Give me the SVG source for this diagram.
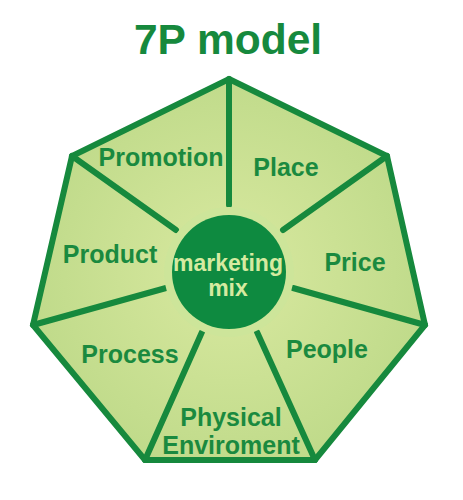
<svg xmlns="http://www.w3.org/2000/svg" width="463" height="500" viewBox="0 0 463 500">
<defs>
<radialGradient id="bg" cx="229" cy="272" r="220" gradientUnits="userSpaceOnUse">
<stop offset="0" stop-color="#d9e9a0"/>
<stop offset="1" stop-color="#bdd988"/>
</radialGradient>
<style>
.lbl{font-family:"Liberation Sans",Arial,sans-serif;font-weight:bold;font-size:25px;fill:#1a8a3f;text-anchor:middle}
.mix{font-family:"Liberation Sans",Arial,sans-serif;font-weight:bold;font-size:23px;fill:#d6eaa0;text-anchor:middle}
.edge{stroke:#16893d;stroke-width:6;stroke-linecap:round}
</style>
</defs>
<rect width="463" height="500" fill="#ffffff"/>
<text x="228" y="54" font-family="Liberation Sans,Arial,sans-serif" font-weight="bold" font-size="42.5" fill="#16893d" text-anchor="middle">7P model</text>
<g id="heptagon">
<polygon points="229,79 387,156 425,325 315,460 145,460 33,325 72,156" fill="url(#bg)" stroke="#16893d" stroke-width="6" stroke-linejoin="miter"/>
</g>
<g id="connectors">
<line class="edge" x1="229" y1="79" x2="229" y2="205"/>
<line class="edge" x1="72" y1="156" x2="176" y2="230"/>
<line class="edge" x1="387" y1="156" x2="283" y2="230"/>
<line class="edge" x1="33" y1="325" x2="166" y2="288"/>
<line class="edge" x1="425" y1="325" x2="293" y2="288"/>
<line class="edge" x1="145" y1="460" x2="202" y2="332"/>
<line class="edge" x1="315" y1="460" x2="257" y2="332"/>
</g>
<g id="center">
<circle cx="229" cy="272" r="65" fill="#cde59a"/>
<circle cx="229" cy="272" r="57" fill="#0e8a40"/>
<text class="mix" x="228" y="271">marketing</text>
<text class="mix" x="228" y="296">mix</text>
</g>
<g id="promotion"><text class="lbl" x="161" y="166">Promotion</text></g>
<g id="place"><text class="lbl" x="286" y="176">Place</text></g>
<g id="product"><text class="lbl" x="110" y="263">Product</text></g>
<g id="price"><text class="lbl" x="355" y="271">Price</text></g>
<g id="process"><text class="lbl" x="130" y="363">Process</text></g>
<g id="people"><text class="lbl" x="327" y="358">People</text></g>
<g id="physical"><text class="lbl" x="231" y="426">Physical</text><text class="lbl" x="231" y="454">Enviroment</text></g>
</svg>
